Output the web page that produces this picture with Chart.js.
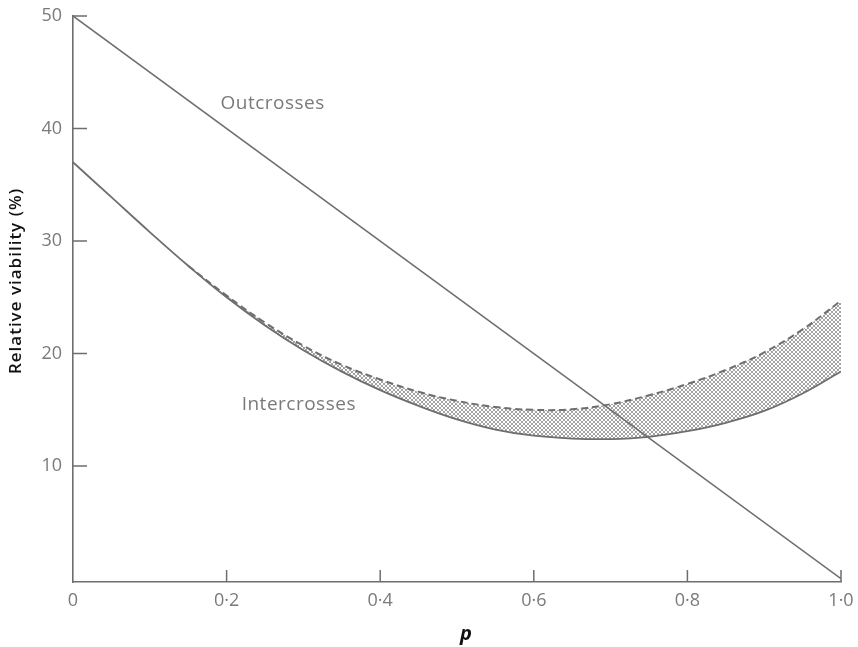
<!DOCTYPE html>
<html>
<head>
<meta charset="utf-8">
<script src="https://cdn.jsdelivr.net/npm/chart.js@4/dist/chart.umd.min.js"></script>
<style>
  html, body { margin: 0; padding: 0; background: #fff; }
  #wrap { width: 858px; height: 647px; }
</style>
</head>
<body>
<div id="wrap"><canvas id="viabilityChart"></canvas></div>
<script>
// ── data ──
const outcrossP = [0, 1.0];
const outcrossV = [50, 0];

const interP = [0, 0.05, 0.1, 0.15, 0.2, 0.25, 0.3, 0.35, 0.4, 0.45, 0.5, 0.55, 0.6, 0.65, 0.7, 0.75, 0.8, 0.85, 0.9, 0.95, 1.0];
const interV = [37.0, 33.9, 30.8, 27.8, 25.0, 22.5, 20.3, 18.4, 16.75, 15.35, 14.15, 13.25, 12.7, 12.45, 12.4, 12.6, 13.1, 13.85, 14.9, 16.45, 18.4];

// upper (dashed) bound of the intercross band
const upperP = [0.15, 0.2, 0.25, 0.3, 0.35, 0.4, 0.45, 0.5, 0.55, 0.6, 0.65, 0.7, 0.75, 0.8, 0.85, 0.9, 0.95, 1.0];
const upperV = [27.8, 25.15, 22.75, 20.7, 19.0, 17.7, 16.6, 15.8, 15.25, 15.0, 15.05, 15.5, 16.3, 17.3, 18.55, 20.1, 22.15, 24.7];

const xTicks = [0, 0.2, 0.4, 0.6, 0.8, 1.0];
const yTicks = [10, 20, 30, 40, 50];

const toPts = (xs, ys) => xs.map((x, i) => ({ x, y: ys[i] }));

const GREY = '#6e6e6e';
const TEXT = '#7a7a7a';

// cross-hatch pattern for the shaded band
function hatch() {
  const c = document.createElement('canvas');
  c.width = 4; c.height = 4;
  const g = c.getContext('2d');
  g.strokeStyle = 'rgba(110,110,110,0.8)';
  g.lineWidth = 0.8;
  g.beginPath();
  g.moveTo(0, 0); g.lineTo(4, 4);
  g.moveTo(4, 0); g.lineTo(0, 4);
  g.stroke();
  return g.createPattern(c, 'repeat');
}

// inward tick marks, curve labels, axis titles
const extras = {
  id: 'extras',
  afterDatasetsDraw(chart) {
    const { ctx, scales: { x, y } } = chart;
    ctx.save();
    ctx.strokeStyle = GREY;
    ctx.lineWidth = 1.5;
    ctx.beginPath();
    yTicks.forEach(v => {
      const py = y.getPixelForValue(v);
      ctx.moveTo(x.left, py); ctx.lineTo(x.left + 14, py);
    });
    xTicks.filter(v => v > 0).forEach(v => {
      const px = x.getPixelForValue(v);
      ctx.moveTo(px, y.bottom); ctx.lineTo(px, y.bottom - 12);
    });
    ctx.stroke();

    ctx.fillStyle = TEXT;
    ctx.font = '19px "Open Sans"';
    ctx.letterSpacing = '0.5px';
    ctx.textAlign = 'center';
    ctx.textBaseline = 'middle';
    ctx.fillText('Outcrosses', x.getPixelForValue(0.26), y.getPixelForValue(42.2));
    ctx.fillText('Intercrosses', x.getPixelForValue(0.294), y.getPixelForValue(15.5));

    // x axis title
    ctx.fillStyle = '#111';
    ctx.letterSpacing = '0px';
    ctx.font = 'italic bold 20px "Open Sans"';
    ctx.fillText('p', (x.left + x.right) / 2 + 9, chart.height - 13);

    // y axis title
    ctx.font = '600 17px "Open Sans"';
    ctx.letterSpacing = '1px';
    ctx.translate(16, (y.top + y.bottom) / 2 - 18);
    ctx.rotate(-Math.PI / 2);
    ctx.fillText('Relative viability (%)', 0, 0);
    ctx.restore();
  }
};

const ctx = document.getElementById('viabilityChart').getContext('2d');
new Chart(ctx, {
  type: 'line',
  data: {
    datasets: [
      { label: 'Outcrosses', data: toPts(outcrossP, outcrossV), borderColor: GREY, borderWidth: 1.6, pointRadius: 0, tension: 0, fill: false },
      { label: 'Intercrosses', data: toPts(interP, interV), borderColor: GREY, borderWidth: 1.8, pointRadius: 0, tension: 0.4, fill: false },
      { label: 'Upper', data: toPts(upperP, upperV), borderColor: GREY, borderWidth: 2, borderDash: [7, 4], pointRadius: 0, tension: 0.4, fill: 1, backgroundColor: hatch() }
    ]
  },
  options: {
    responsive: true,
    maintainAspectRatio: false,
    animation: false,
    layout: { padding: { top: 16, right: 17, left: 0, bottom: 0 } },
    plugins: { legend: { display: false }, tooltip: { enabled: false } },
    scales: {
      x: {
        type: 'linear', min: 0, max: 1,
        afterBuildTicks: s => { s.ticks = xTicks.map(v => ({ value: v })); },
        afterFit: s => { s.height = 65; s.paddingLeft = 0; s.paddingRight = 0; },
        grid: { display: false, drawTicks: false },
        border: { display: true, color: GREY, width: 1.6 },
        ticks: { color: TEXT, font: { family: 'Open Sans', size: 18 }, padding: 8, maxRotation: 0,
          callback: v => v === 0 ? '0' : v.toFixed(1).replace('.', '·') }
      },
      y: {
        min: -0.3, max: 50,
        afterBuildTicks: s => { s.ticks = yTicks.map(v => ({ value: v })); },
        afterFit: s => { s.width = 73; s.paddingTop = 0; s.paddingBottom = 0; },
        grid: { display: false, drawTicks: false },
        border: { display: true, color: GREY, width: 1.6 },
        ticks: { color: TEXT, font: { family: 'Open Sans', size: 18 }, padding: 11 }
      }
    }
  },
  plugins: [extras]
});
</script>
</body>
</html>
